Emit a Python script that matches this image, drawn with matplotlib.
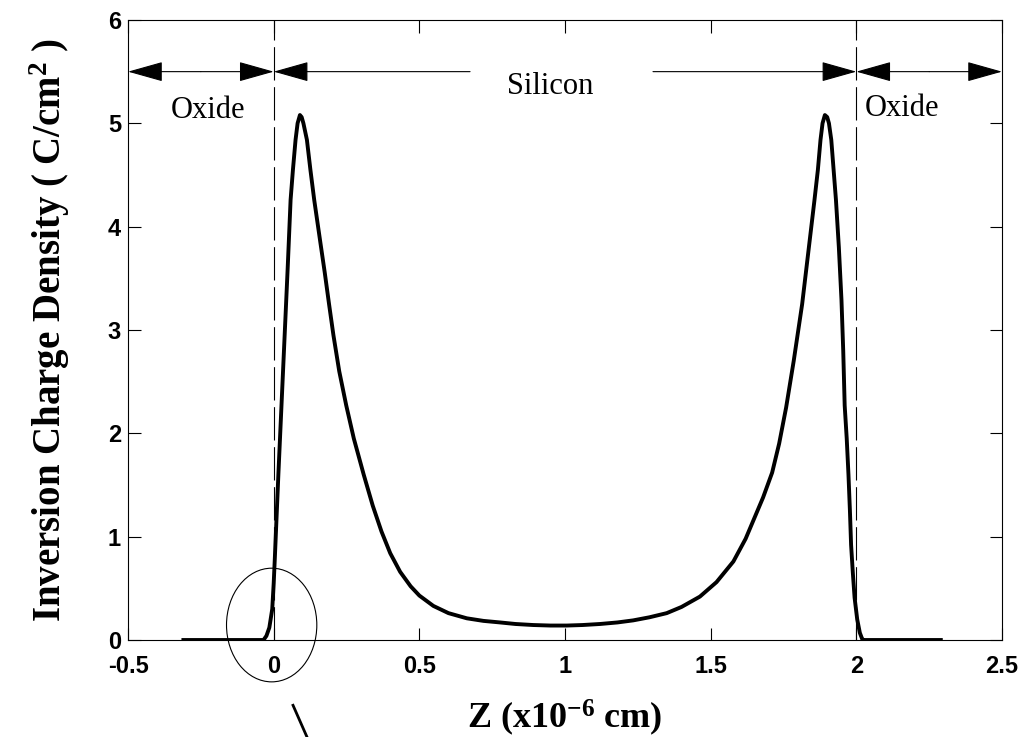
import matplotlib
matplotlib.use("Agg")
import matplotlib.pyplot as plt
from matplotlib.patches import Ellipse
from matplotlib.lines import Line2D

plt.rcParams['mathtext.fontset'] = 'custom'
plt.rcParams['mathtext.rm'] = 'Liberation Serif:bold'
plt.rcParams['mathtext.it'] = 'Liberation Serif:bold'
plt.rcParams['mathtext.bf'] = 'Liberation Serif:bold'

# inversion charge density
z = [-0.31, -0.035, -0.025, -0.015, -0.005, 0.0, 0.004, 0.010, 0.016, 0.024,
     0.032, 0.040, 0.048, 0.058, 0.066, 0.075, 0.082, 0.090, 0.096, 0.102,
     0.114, 0.126, 0.139, 0.16, 0.175, 0.19, 0.205, 0.225, 0.249, 0.275,
     0.309, 0.34, 0.37, 0.40, 0.434, 0.47, 0.50, 0.548, 0.60, 0.663,
     0.72, 0.777, 0.83, 0.891, 0.95, 1.006, 1.06, 1.120, 1.18, 1.234,
     1.29, 1.349, 1.40, 1.463, 1.52, 1.578, 1.62, 1.65, 1.68, 1.711,
     1.735, 1.759, 1.785, 1.814, 1.835, 1.856, 1.868, 1.877, 1.884, 1.892,
     1.900, 1.906, 1.914, 1.922, 1.930, 1.940, 1.949, 1.955, 1.960, 1.967,
     1.973, 1.978, 1.982, 1.988, 1.994, 2.003, 2.012, 2.02, 2.025, 2.29]
rho = [0, 0, 0.04, 0.12, 0.3, 0.55, 0.8, 1.2, 1.6, 2.1,
       2.6, 3.1, 3.6, 4.26, 4.55, 4.84, 5.00, 5.08, 5.06, 5.00,
       4.84, 4.55, 4.26, 3.85, 3.56, 3.25, 2.95, 2.6, 2.27, 1.95,
       1.60, 1.30, 1.05, 0.84, 0.66, 0.52, 0.43, 0.33, 0.26, 0.21,
       0.185, 0.17, 0.155, 0.145, 0.14, 0.14, 0.145, 0.155, 0.17, 0.19,
       0.22, 0.26, 0.32, 0.42, 0.56, 0.76, 0.98, 1.18, 1.38, 1.62,
       1.90, 2.25, 2.7, 3.25, 3.75, 4.25, 4.55, 4.84, 5.00, 5.08,
       5.06, 5.00, 4.84, 4.55, 4.26, 3.8, 3.29, 2.8, 2.27, 1.95,
       1.60, 1.25, 0.92, 0.65, 0.41, 0.2, 0.07, 0.01, 0, 0]

xticks = [-0.5, 0, 0.5, 1, 1.5, 2, 2.5]
xticklabels = ['-0.5', '0', '0.5', '1', '1.5', '2', '2.5']
yticks = [0, 1, 2, 3, 4, 5, 6]
walls = [0, 2]

fig = plt.figure(figsize=(10.26, 7.37), dpi=100)
ax = fig.add_axes([0.1248, 0.1316, 0.8518, 0.8413])

ax.plot(z, rho, color='black', lw=2.8, solid_joinstyle='round')

for w in walls:
    ax.plot([w, w], [0, 6], color='black', lw=0.8, dashes=(30, 6))

ax.set_xlim(-0.5, 2.5)
ax.set_ylim(0, 6)
ax.set_xticks(xticks)
ax.set_xticklabels(xticklabels)
ax.set_yticks(yticks)
ax.tick_params(direction='in', length=9, width=0.8, top=True, right=True)
ax.tick_params(axis='x', pad=11)
ax.tick_params(axis='y', pad=5)
for lab in ax.get_xticklabels() + ax.get_yticklabels():
    lab.set_fontfamily('Liberation Sans')
    lab.set_fontweight('bold')
    lab.set_fontsize(17)
for s in ax.spines.values():
    s.set_linewidth(0.8)

# region arrows
aprops = dict(arrowstyle='-|>,head_length=1.6,head_width=0.45', color='black',
              lw=0.8, shrinkA=0, shrinkB=0, mutation_scale=14)
arrows = [(-0.25, -0.5), (-0.25, 0), (0.674, 0), (1.302, 2), (2.25, 2), (2.25, 2.5)]
for start, end in arrows:
    ax.annotate('', xy=(end, 5.5), xytext=(start, 5.5), arrowprops=aprops)

ax.text(-0.226, 5.05, 'Oxide', family='Liberation Serif', fontsize=22,
        ha='center', va='baseline')
ax.text(0.95, 5.28, 'Silicon', family='Liberation Serif', fontsize=22,
        ha='center', va='baseline')
ax.text(2.03, 5.07, 'Oxide', family='Liberation Serif', fontsize=22,
        ha='left', va='baseline')

ax.add_patch(Ellipse((-0.007, 0.145), 0.31, 1.1, fill=False, lw=0.8,
                     color='black', clip_on=False))
fig.add_artist(Line2D([0.2856, 0.2992], [0.043, 0.0], color='black', lw=2))

ax.set_xlabel('Z (x10$^{-6}$ cm)', family='Liberation Serif', fontweight='bold',
              fontsize=26, labelpad=14)
ax.set_ylabel('Inversion Charge Density ( C/cm$^{2}$ )', family='Liberation Serif',
              fontweight='bold', fontsize=28, labelpad=26)

fig.savefig('out.png', dpi=100)
